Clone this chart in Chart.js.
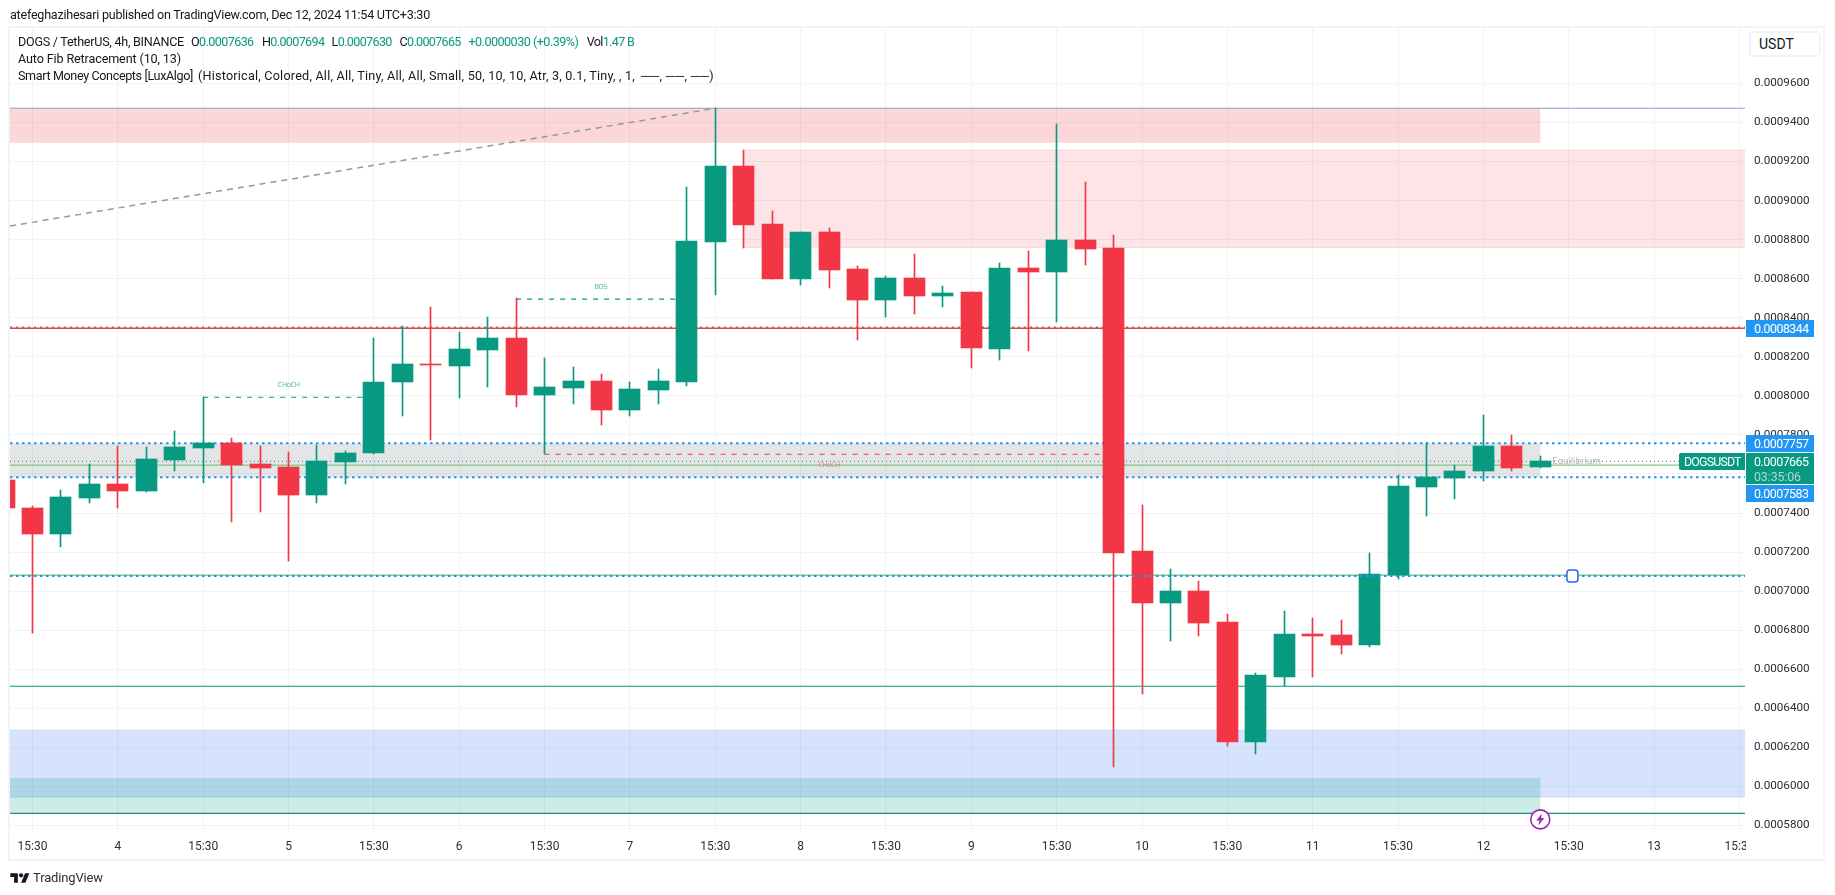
<!DOCTYPE html>
<html>
<head>
<meta charset="utf-8">
<style>
html,body{margin:0;padding:0;background:#fff;width:1835px;height:895px;overflow:hidden}
canvas{position:absolute;left:0;top:0}
.t{position:absolute;white-space:nowrap;font-family:Roboto,sans-serif;font-size:12.6px;line-height:16px;color:#131722}
.g{color:#089981}
.frame{position:absolute;left:8px;top:26px;width:1817px;height:835px;box-sizing:border-box;border:2px solid #f0f3fa}
.usdt{position:absolute;left:1749px;top:31px;width:72px;height:26px;box-sizing:border-box;border:2px solid #f0f3fa;border-radius:5px;background:#fff;font:14px/22px Roboto,sans-serif;color:#131722;padding-left:8px}
.badge{position:absolute;left:1746px;width:68px;height:17px;box-sizing:border-box;padding-left:8px;color:#fff;font:12.4px/17px Roboto,sans-serif;white-space:nowrap}
.ann{position:absolute;transform:translate(-50%,-50%);white-space:nowrap;font-family:"DejaVu Sans",sans-serif}
</style>
</head>
<body>
<canvas id="c" width="1835" height="895" style="width:1835px;height:895px"></canvas>
<div class="frame"></div>
<div class="t" data-w="420" style="left:10px;top:7px">atefeghazihesari published on TradingView.com, Dec 12, 2024 11:54 UTC+3:30</div>
<div class="t" data-w="166" style="left:18px;top:34px">DOGS / TetherUS, 4h, BINANCE</div>
<div class="t" data-w="62.6" style="left:191px;top:34px">O<span class="g">0.0007636</span></div>
<div class="t" data-w="62.3" style="left:262px;top:34px">H<span class="g">0.0007694</span></div>
<div class="t" data-w="60.2" style="left:331.6px;top:34px">L<span class="g">0.0007630</span></div>
<div class="t" data-w="61.2" style="left:399.5px;top:34px">C<span class="g">0.0007665</span></div>
<div class="t g" data-w="110" style="left:468.4px;top:34px">+0.0000030 (+0.39%)</div>
<div class="t" data-w="47.5" style="left:586.7px;top:34px">Vol<span class="g">1.47 B</span></div>
<div class="t" data-w="163" style="left:18px;top:51px">Auto Fib Retracement (10, 13)</div>
<div class="t" data-w="175" style="left:18px;top:68px">Smart Money Concepts [LuxAlgo]</div>
<div class="t" data-w="437" style="left:198px;top:68px">(Historical, Colored, All, All, Tiny, All, All, Small, 50, 10, 10, Atr, 3, 0.1, Tiny, , 1,</div>
<div class="t" data-w="73" style="left:641px;top:68px">──, ──, ──)</div>
<div class="usdt">USDT</div>
<svg style="position:absolute;left:10px;top:871px" width="20" height="15" viewBox="0 0 36 28"><path fill="#131722" d="M14 22H7V11H0V4h14v18zM28 22h-8l7.5-18h8L28 22z"/><circle fill="#131722" cx="20" cy="8" r="4"/></svg>
<div class="t" data-w="70" style="left:33px;top:870px;font-size:13px;color:#2a2e39">TradingView</div>
<div id="over"></div>

<script src="https://cdn.jsdelivr.net/npm/chart.js@4/dist/chart.umd.min.js"></script>
<script>
const UNIT = 1e-7;
const toPrice = v => v * UNIT;

// candle slots: slot 0 is the first full candle; -1 is cut off by the left edge
const opens  = [7569,7426,7293,7477,7549,7513,7672,7733,7759,7651,7636,7493,7662,7708,8071,8163,8153,8235,8297,8005,8041,8076,7930,8030,8071,8788,9177,8880,8599,8839,8650,8491,8604,8512,8532,8240,8655,8635,8798,8757,7206,6939,7001,6842,6227,6560,6781,6775,6724,7083,7533,7580,7615,7743,7636];
const highs  = [7580,7436,7518,7651,7743,7738,7820,7993,7784,7743,7713,7749,7718,8297,8358,8455,8327,8404,8499,8194,8148,8112,8071,8138,9070,9473,9259,8947,8839,8860,8665,8614,8727,8563,8532,8681,8742,9393,9096,8824,7439,7113,7052,6883,6581,6898,6862,6852,7195,7595,7759,7646,7902,7800,7694];
const lows   = [7400,6786,7228,7453,7428,7508,7615,7556,7354,7405,7155,7451,7549,7703,7897,7774,7989,8046,7943,7701,7959,7851,7895,7960,8051,8517,8757,8599,8568,8553,8286,8404,8419,8455,8143,8184,8230,8379,8670,6099,6473,6745,6770,6207,6166,6514,6560,6678,6714,7062,7385,7472,7564,7615,7630];
const closes = [7426,7293,7482,7549,7513,7677,7738,7759,7646,7631,7493,7667,7708,8071,8163,8158,8240,8297,8005,8046,8076,7928,8035,8076,8793,9177,8875,8599,8839,8645,8491,8604,8512,8527,8245,8655,8635,8798,8752,7195,6939,7001,6837,6227,6571,6781,6770,6724,7088,7538,7585,7615,7743,7631,7665];

// axes
const timeTickValues = [0,3,6,9,12,15,18,21,24,27,30,33,36,39,42,45,48,51,54,57,60];
const timeTickLabels = ["15:30","4","15:30","5","15:30","6","15:30","7","15:30","8","15:30","9","15:30","10","15:30","11","15:30","12","15:30","13","15:30"];
const priceTicks = [5800,6000,6200,6400,6600,6800,7000,7200,7400,7600,7800,8000,8200,8400,8600,8800,9000,9200,9400,9600];
const slotMin = -0.791, slotMax = 60.196, priceMin = 5766.5, priceMax = 9884;

// zones
const zoneStart = [slotMin, 25, slotMin, slotMin, slotMin];
const zoneEnd   = [53, slotMax, 53, slotMax, 53];
const zoneTop   = [9473, 9259, 7757, 6288, 6043];
const zoneBot   = [9296, 8759, 7583, 5945, 5862];
const zoneFill  = ['rgba(242,54,69,0.2)','rgba(242,54,69,0.13)','rgba(120,123,134,0.2)','rgba(27,99,238,0.18)','rgba(8,153,129,0.2)'];
const zoneEdge  = [null,'rgba(242,54,69,0.13)',null,'rgba(41,98,255,0.15)',null];

// horizontal and structure lines
const levelPrice = [9473, 8346, 8351, 7757, 7665, 7645, 7583, 7082, 7078, 6513, 5862];
const levelColor = ['#8a9cc8','#f44336','#2196f3','#2196f3','#089981','#81c784','#2196f3','#4caf50','#2196f3','#089981','#1f8f7c'];
const levelWidth = [1.2,1.4,1.5,2,1,1.2,2,1,2,1.2,1.4];
const levelDash  = [[],[],[2,4],[2.5,3.5],[1,3],[],[2.5,3.5],[],[2.5,3.5],[],[]];
const levelOrder = [5,4,5,4,4,5,4,5,0,5,5];

const fibStart = [slotMin, 8870], fibEnd = [24, 9473];
const structStart = [6, 17, 18], structEnd = [12, 23, 38], structPrice = [7993, 8495, 7701];
const structColor = ['#089981','#089981','#f23645'];

const annText  = ['CHoCH','BOS','CHoCH','Equilibrium'];
const annSlot  = [9, 19.97, 28, 54.27];
const annPrice = [8057, 8559, 7645, 7665];
const annColor = ['rgba(8,153,129,.65)','rgba(8,153,129,.65)','rgba(242,54,69,.45)','#b2b5be'];
const annSize  = [7,7,7,9];
const annWidth = [22,12.8,21.4,49];

const handleSlot = 54.13, handlePrice = 7077;
const boltSlot = 53, boltPrice = 5831;

const slots = opens.map((_, i) => i - 1);
const candleColor = opens.map((o, i) => closes[i] >= o ? '#089981' : '#f23645');

const flat = (p, color, width, dash, order) => ({
  type:'line', data:[{x:slotMin,y:toPrice(p)},{x:slotMax,y:toPrice(p)}],
  borderColor:color, borderWidth:width, borderDash:dash, pointRadius:0, tension:0, order
});

const datasets = [
  { type:'bar', label:'Body', order:1, grouped:false, barThickness:21, borderWidth:0,
    data:slots.map((s,i)=>({x:s,y:[toPrice(opens[i]),toPrice(closes[i])]})), backgroundColor:candleColor },
  { type:'bar', label:'Wick', order:2, grouped:false, barThickness:1, borderWidth:0,
    data:slots.map((s,i)=>({x:s,y:[toPrice(lows[i]),toPrice(highs[i])]})), backgroundColor:candleColor },
  ...levelPrice.map((p,i)=>flat(p,levelColor[i],levelWidth[i],levelDash[i],levelOrder[i])),
  { type:'line', order:5, data:[{x:fibStart[0],y:toPrice(fibStart[1])},{x:fibEnd[0],y:toPrice(fibEnd[1])}],
    borderColor:'#9598a1', borderWidth:1.5, borderDash:[6,5], pointRadius:0 },
  ...structPrice.map((p,i)=>({ type:'line', order:3,
    data:[{x:structStart[i],y:toPrice(p)},{x:structEnd[i],y:toPrice(p)}],
    borderColor:structColor[i], borderWidth:1.2, borderDash:[5,6], pointRadius:0 }))
];

const overlayPlugin = {
  id:'overlay',
  afterDatasetsUpdate(chart){
    // keep candle edges on whole pixels so bodies and wicks stay crisp
    [0,1].forEach(d=>{
      chart.getDatasetMeta(d).data.forEach(el=>{
        el.x = Math.floor(el.x) + 0.5;
        const a = Math.round(Math.min(el.y, el.base));
        let b = Math.round(Math.max(el.y, el.base));
        if (b <= a) b = a + 1;
        el.y = a; el.base = b; el.height = b - a;
      });
    });
  },
  beforeDatasetsDraw(chart){
    const {ctx, scales:{x,y}} = chart;
    ctx.save();
    zoneFill.forEach((f,i)=>{
      const l=x.getPixelForValue(zoneStart[i]), r=x.getPixelForValue(zoneEnd[i]);
      const t=y.getPixelForValue(toPrice(zoneTop[i])), b=y.getPixelForValue(toPrice(zoneBot[i]));
      ctx.fillStyle=f; ctx.fillRect(l,t,r-l,b-t);
      if(zoneEdge[i]){ ctx.strokeStyle=zoneEdge[i]; ctx.lineWidth=1; ctx.beginPath();
        ctx.moveTo(l,t);ctx.lineTo(r,t);ctx.moveTo(l,b);ctx.lineTo(r,b);ctx.stroke(); }
    });
    ctx.restore();
  },
  afterDraw(chart){
    const {ctx, scales:{x,y}} = chart;
    ctx.save();
    // time axis clips its last label at the price axis
    ctx.fillStyle='#fff'; ctx.fillRect(1746,834,20,24);
    // line-tool handle
    const hx=x.getPixelForValue(handleSlot), hy=y.getPixelForValue(toPrice(handlePrice));
    ctx.fillStyle='#fff'; ctx.strokeStyle='#2962ff'; ctx.lineWidth=1.5;
    ctx.beginPath(); ctx.roundRect(hx-5.5,hy-6,11,12,3); ctx.fill(); ctx.stroke();
    // lightning marker
    const bx=x.getPixelForValue(boltSlot), by=y.getPixelForValue(toPrice(boltPrice));
    ctx.fillStyle='#fff'; ctx.strokeStyle='#9c27b0'; ctx.lineWidth=1.6;
    ctx.beginPath(); ctx.arc(bx,by,9.5,0,Math.PI*2); ctx.fill(); ctx.stroke();
    ctx.fillStyle='#9c27b0'; ctx.beginPath();
    [[1.5,-6],[-4,1],[-0.8,1],[-2,6],[4,-1.5],[0.8,-1.5]].forEach((p,i)=>i?ctx.lineTo(bx+p[0],by+p[1]):ctx.moveTo(bx+p[0],by+p[1]));
    ctx.closePath(); ctx.fill();
    ctx.restore();
  }
};

const chart = new Chart(document.getElementById('c'), {
  data:{datasets},
  plugins:[overlayPlugin],
  options:{
    responsive:false, animation:false, devicePixelRatio:1,
    layout:{padding:{left:10,top:28,right:10,bottom:36}},
    plugins:{legend:{display:false},tooltip:{enabled:false}},
    scales:{
      x:{type:'linear',position:'bottom',min:slotMin,max:slotMax,offset:false,
        grid:{color:'#f2f3f5',offset:false,drawTicks:false},border:{display:false},
        afterFit(s){s.height=27;},
        afterBuildTicks(s){s.ticks=timeTickValues.map(v=>({value:v}));},
        ticks:{autoSkip:false,maxRotation:0,minRotation:0,padding:8,color:'#2a2e39',font:{family:'Roboto, sans-serif',size:12},
          callback:(v)=>timeTickLabels[timeTickValues.indexOf(v)]}},
      y:{type:'linear',position:'right',min:toPrice(priceMin),max:toPrice(priceMax),
        grid:{color:'#f2f3f5',drawTicks:false},border:{display:false},
        afterFit(s){s.width=80;},
        afterBuildTicks(s){s.ticks=priceTicks.map(v=>({value:toPrice(v)}));},
        ticks:{autoSkip:false,padding:9,color:'#2a2e39',font:{family:'Roboto, sans-serif',size:11.7},
          callback:(v)=>v.toFixed(7)}}
    }
  }
});

// text overlays anchored through the chart's own scales
const over = document.getElementById('over');
const sx = v => chart.scales.x.getPixelForValue(v);
const sy = v => chart.scales.y.getPixelForValue(toPrice(v));
annText.forEach((t,i)=>{
  const d=document.createElement('div'); d.className='ann'; d.textContent=t; d.dataset.w=annWidth[i];
  d.style.cssText=`left:${sx(annSlot[i])}px;top:${sy(annPrice[i])}px;color:${annColor[i]};font-size:${annSize[i]}px`;
  over.appendChild(d);
});
const badgePrice=[8344,7757,7583], badgeText=['0.0008344','0.0007757','0.0007583'], badgeShift=[0,0,16];
badgePrice.forEach((p,i)=>{
  const d=document.createElement('div'); d.className='badge'; d.textContent=badgeText[i]; d.dataset.w=54.5;
  d.style.top=(sy(p)-8.5+badgeShift[i])+'px'; d.style.background='#2196f3'; over.appendChild(d);
});
const last=document.createElement('div'); last.className='badge';
last.style.cssText=`top:${sy(7665)-8.5}px;height:31.5px;background:#089981;line-height:15px;padding-top:1px`;
last.innerHTML='<span data-w="54.5">0.0007665</span><br><span data-w="47" style="color:#a8dbd2">03:35:06</span>';
over.appendChild(last);
const sym=document.createElement('div'); sym.className='badge'; sym.textContent='DOGSUSDT'; sym.dataset.w=56.7;
sym.style.cssText=`left:1679px;width:66px;top:${sy(7665)-8.5}px;background:#089981;padding-left:5px;border-radius:2px 0 0 2px`;
over.appendChild(sym);

// stretch or tighten each text to the width it has in the reference
document.querySelectorAll('[data-w]').forEach(el=>{
  const r=document.createRange(); r.selectNodeContents(el);
  const cur=r.getBoundingClientRect().width;
  el.style.letterSpacing=((+el.dataset.w-cur)/el.textContent.length)+'px';
});
</script>
</body>
</html>
